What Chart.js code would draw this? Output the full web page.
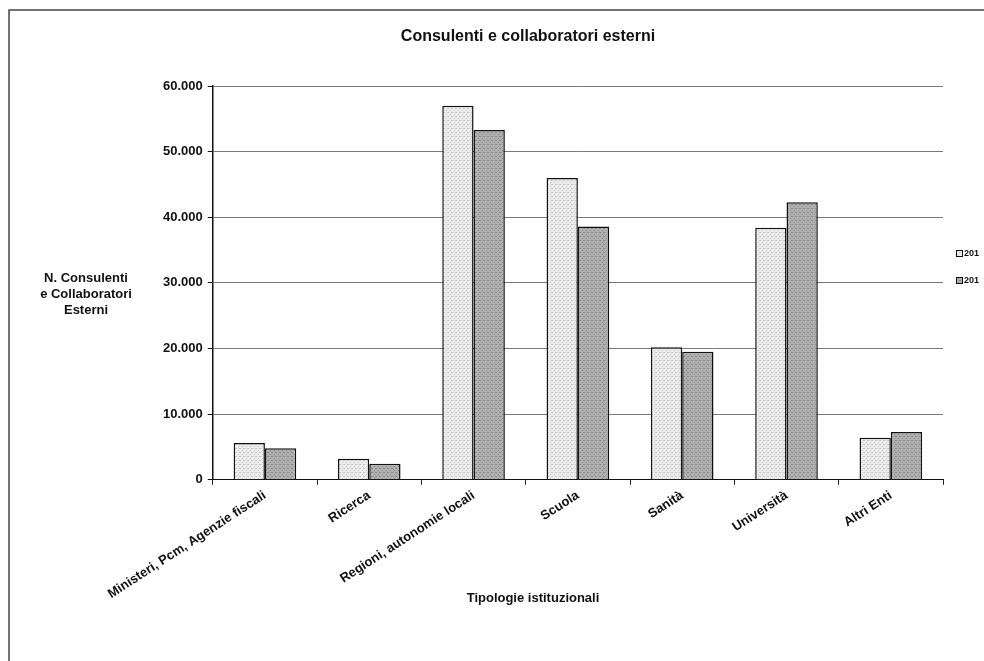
<!DOCTYPE html>
<html>
<head>
<meta charset="utf-8">
<title>Consulenti e collaboratori esterni</title>
<script src="https://cdn.jsdelivr.net/npm/chart.js@4.4.1/dist/chart.umd.min.js"></script>
<style>
  html, body { margin: 0; padding: 0; background: #fff; }
  #wrap { width: 984px; height: 661px; }
</style>
</head>
<body>
<div id="wrap"><canvas id="consulentiChart" width="984" height="661"></canvas></div>
<script>
// dati
const categorie = ["Ministeri, Pcm, Agenzie fiscali", "Ricerca", "Regioni, autonomie locali", "Scuola", "Sanità", "Università", "Altri Enti"];
const serie1 = [5600, 3200, 57000, 46000, 20200, 38400, 6400];
const serie2 = [4800, 2450, 53300, 38600, 19500, 42300, 7300];
const etichetteSerie = ["201", "201"];
const titolo = "Consulenti e collaboratori esterni";
const titoloY = ["N. Consulenti", "e Collaboratori", "Esterni"];
const titoloX = "Tipologie istituzionali";

const FONT = "'Liberation Sans', Arial, sans-serif";

// piccola trama puntinata per imitare il riempimento della stampa
function trama(base, punto) {
    const c = document.createElement("canvas");
    c.width = 4; c.height = 4;
    const g = c.getContext("2d");
    g.fillStyle = base;
    g.fillRect(0, 0, 4, 4);
    g.fillStyle = punto;
    g.fillRect(0, 0, 1, 1);
    g.fillRect(2, 2, 1, 1);
    g.fillRect(3, 0, 1, 1);
    return g.createPattern(c, "repeat");
}

function formatta(v) {
    return String(v).replace(/\B(?=(\d{3})+(?!\d))/g, ".");
}

// testi, legenda e cornice disegnati a mano (titolo Y orizzontale, come in Excel)
const testiExtra = {
    id: "testiExtra",
    afterDraw(chart) {
        const ctx = chart.ctx;
        ctx.save();
        ctx.strokeStyle = "#444";
        ctx.lineWidth = 1.5;
        ctx.beginPath();
        ctx.moveTo(9, 661);
        ctx.lineTo(9, 10);
        ctx.lineTo(984, 10);
        ctx.stroke();

        ctx.fillStyle = "#111";
        ctx.textAlign = "center";
        ctx.textBaseline = "middle";
        ctx.font = "bold 16px " + FONT;
        ctx.fillText(titolo, 528, 37);

        ctx.font = "bold 13px " + FONT;
        titoloY.forEach((riga, i) => {
            ctx.fillText(riga, 86, 278 + i * 16);
        });
        ctx.fillText(titoloX, 533, 598);

        // legenda
        ctx.font = "bold 9px " + FONT;
        ctx.textAlign = "left";
        chart.data.datasets.forEach((ds, i) => {
            const y = 254 + i * 27;
            ctx.fillStyle = ds.backgroundColor;
            ctx.fillRect(956, y - 3, 6, 6);
            ctx.lineWidth = 1;
            ctx.strokeStyle = "#111";
            ctx.strokeRect(956.5, y - 3.5, 6, 6);
            ctx.fillStyle = "#111";
            ctx.fillText(ds.label, 964, y);
        });
        ctx.restore();
    }
};

new Chart("consulentiChart", {
    type: "bar",
    data: {
        labels: categorie,
        datasets: [{
            label: etichetteSerie[0],
            data: serie1,
            backgroundColor: trama("#ededed", "#c4c4c4"),
            borderColor: "#111",
            borderWidth: 1.5,
            categoryPercentage: 0.6,
            barPercentage: 1.0
        }, {
            label: etichetteSerie[1],
            data: serie2,
            backgroundColor: trama("#b0b0b0", "#878787"),
            borderColor: "#111",
            borderWidth: 1.5,
            categoryPercentage: 0.6,
            barPercentage: 1.0
        }]
    },
    options: {
        responsive: false,
        animation: false,
        layout: {
            padding: {left: 158, top: 86, right: 41, bottom: 56}
        },
        plugins: {
            title: {display: false},
            tooltip: {enabled: false},
            legend: {display: false}
        },
        scales: {
            x: {
                grid: {
                    display: true,
                    drawOnChartArea: false,
                    tickLength: 5,
                    color: "#222"
                },
                border: {display: true, color: "#111", width: 1},
                ticks: {
                    minRotation: 33,
                    maxRotation: 33,
                    color: "#111",
                    font: {family: FONT, size: 13, weight: "bold"}
                }
            },
            y: {
                min: 0,
                max: 60000,
                ticks: {
                    stepSize: 10000,
                    color: "#111",
                    padding: 5,
                    font: {family: FONT, size: 13, weight: "bold"},
                    callback: v => formatta(v)
                },
                grid: {
                    color: "#7a7a7a",
                    lineWidth: 1,
                    tickLength: 5,
                    tickColor: "#111"
                },
                border: {display: true, color: "#111", width: 1.5}
            }
        }
    },
    plugins: [testiExtra]
});
</script>
</body>
</html>
